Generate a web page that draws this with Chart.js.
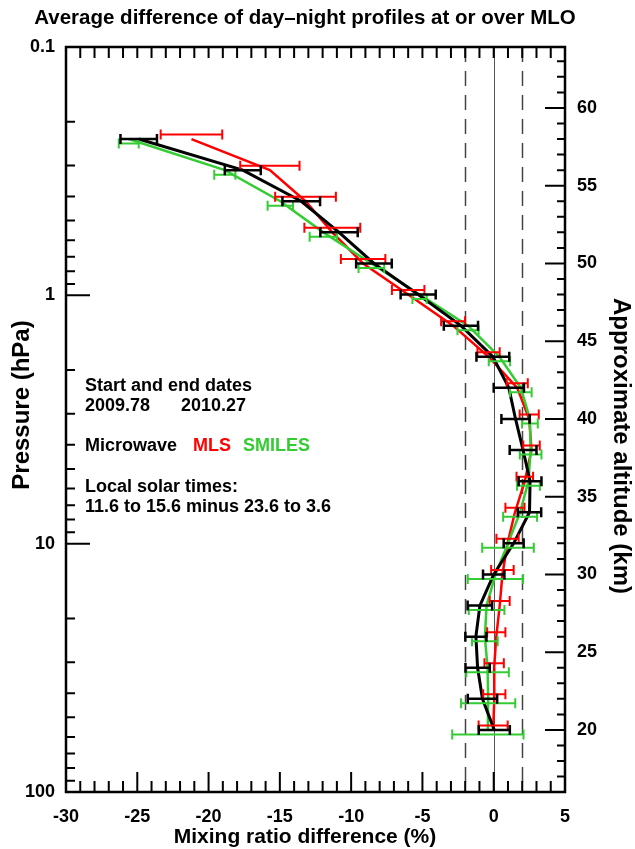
<!DOCTYPE html>
<html><head><meta charset="utf-8">
<script src="https://cdn.jsdelivr.net/npm/chart.js@4.4.0/dist/chart.umd.min.js"></script>
<style>html,body{margin:0;padding:0;background:#fff;}#wrap{width:635px;height:849px;}</style>
</head><body><div id="wrap"><canvas id="c" width="635" height="849"></canvas></div>
<script>
// ---- data (altitude in km, values in %) ----
const altitudes = [58,56,54,52,50,48,46,44,42,40,38,36,34,32,30,28,26,24,22,20];
const microwaveDiff = [-24.9,-17.6,-13.5,-10.85,-8.4,-5.3,-2.3,-0.06,1.06,1.53,2.06,2.55,2.51,1.4,0.0,-0.97,-1.25,-1.13,-0.79,0.04];
const microwaveErr  = [1.28,1.26,1.32,1.31,1.25,1.23,1.2,1.15,1.06,0.99,0.94,0.8,0.82,0.7,0.75,0.86,0.74,0.85,1.03,1.09];
const mlsDiff = [-21.2,-15.7,-13.2,-11.32,-9.16,-6.0,-2.85,-0.36,1.65,2.49,2.65,2.18,1.49,0.97,0.61,0.42,0.18,0.03,0.04,-0.04];
const mlsErr  = [2.16,2.08,2.13,1.96,1.56,1.14,0.84,0.78,0.74,0.67,0.58,0.58,0.67,0.78,0.79,0.7,0.64,0.68,0.78,1.02];
const smilesDiff = [-25.6,-18.86,-14.97,-11.95,-8.58,-5.2,-1.8,0.4,1.9,2.54,2.59,2.44,1.85,1.0,0.12,-0.5,-0.62,-0.43,-0.39,-0.41];
const smilesErr  = [0.7,0.74,0.89,0.96,0.9,0.5,0.74,0.75,0.76,0.55,0.76,0.8,1.19,1.81,1.94,1.25,0.9,1.49,1.9,2.5];

const xTicks = [-30,-25,-20,-15,-10,-5,0,5];
const xTickLabels = ['-30','-25','-20','-15','-10','-5','0','5'];
const pressureTicks = [0.1,1,10,100];
const pressureLabels = ['0.1','1','10','100'];
const altTicks = [20,25,30,35,40,45,50,55,60];
const altTickLabels = ['20','25','30','35','40','45','50','55','60'];
const refLines = [-2,0,2];

const FONT = '"Liberation Sans", Arial, Helvetica, sans-serif';
const RED = '#ff0000', GREEN = '#33cc33', BLACK = '#000000';

function pts(vals){ return altitudes.map((a,i)=>({x:vals[i], y:a})); }

const series = [
  {label:'MLS', vals:mlsDiff, errs:mlsErr, color:RED, off:-4.5, lw:2},
  {label:'SMILES', vals:smilesDiff, errs:smilesErr, color:GREEN, off:4.5, lw:2},
  {label:'Microwave', vals:microwaveDiff, errs:microwaveErr, color:BLACK, off:0, lw:2.5}
];

const decor = {
  id:'decor',
  beforeDatasetsDraw(chart){
    const {ctx, chartArea:ca, scales} = chart;
    const xs = scales.x;
    ctx.save();
    refLines.forEach(v=>{
      const x = Math.round(xs.getPixelForValue(v))+0.5;
      ctx.beginPath();
      if (v===0){ ctx.setLineDash([]); ctx.lineWidth=1; ctx.strokeStyle='#555'; }
      else { ctx.setLineDash([15,9]); ctx.lineWidth=1.5; ctx.strokeStyle='#444'; }
      ctx.moveTo(x, ca.top); ctx.lineTo(x, ca.bottom); ctx.stroke();
    });
    ctx.restore();
  },
  afterDatasetsDraw(chart){
    const {ctx, scales} = chart;
    const xs = scales.x, as = scales.alt;
    ctx.save();
    series.forEach(s=>{
      ctx.strokeStyle = s.color; ctx.lineWidth = s.lw;
      altitudes.forEach((a,i)=>{
        const y = as.getPixelForValue(a) + s.off;
        const x1 = xs.getPixelForValue(s.vals[i]-s.errs[i]);
        const x2 = xs.getPixelForValue(s.vals[i]+s.errs[i]);
        ctx.beginPath();
        ctx.moveTo(x1,y); ctx.lineTo(x2,y);
        ctx.moveTo(x1,y-5); ctx.lineTo(x1,y+5);
        ctx.moveTo(x2,y-5); ctx.lineTo(x2,y+5);
        ctx.stroke();
      });
    });
    ctx.restore();
  },
  afterDraw(chart){
    const {ctx, chartArea:ca, scales} = chart;
    const xs = scales.x, ps = scales.p, as = scales.alt;
    ctx.save();
    ctx.strokeStyle='#000'; ctx.lineWidth=2;
    ctx.beginPath();
    for (let v=-30; v<=5; v++){
      const x = xs.getPixelForValue(v);
      const len = (v%5===0) ? 20 : 11;
      ctx.moveTo(x, ca.bottom); ctx.lineTo(x, ca.bottom-len);
      ctx.moveTo(x, ca.top); ctx.lineTo(x, ca.top+11);
    }
    [0.1,1,10].forEach(d=>{
      for (let m=1; m<=9; m++){
        const v = d*m; const y = ps.getPixelForValue(v);
        const len = m===1 ? 24 : 9;
        ctx.moveTo(ca.left, y); ctx.lineTo(ca.left+len, y);
      }
    });
    for (let a=17; a<=63; a++){
      const y = as.getPixelForValue(a);
      const len = (a%5===0) ? 20 : 8;
      ctx.moveTo(ca.right, y); ctx.lineTo(ca.right-len, y);
    }
    ctx.stroke();
    ctx.lineWidth=2.5;
    ctx.strokeRect(ca.left, ca.top, ca.right-ca.left, ca.bottom-ca.top);

    ctx.fillStyle='#000';
    ctx.textBaseline='middle';
    ctx.textAlign='center';
    ctx.font = 'bold 20.5px '+FONT;
    ctx.fillText('Average difference of day\u2013night profiles at or over MLO', 305, 18);
    ctx.font = 'bold 21px '+FONT;
    ctx.fillText('Mixing ratio difference (%)', 305, 837);
    ctx.font = 'bold 24px '+FONT;
    ctx.save(); ctx.translate(22, 405); ctx.rotate(-Math.PI/2);
    ctx.fillText('Pressure (hPa)', 0, 0); ctx.restore();
    ctx.save(); ctx.translate(621, 446); ctx.rotate(Math.PI/2);
    ctx.fillText('Approximate altitude (km)', 0, 0); ctx.restore();

    ctx.textAlign='left';
    ctx.font = 'bold 18px '+FONT;
    ctx.fillText('Start and end dates', 85, 386);
    ctx.fillText('2009.78', 85, 406);
    ctx.fillText('2010.27', 181, 406);
    ctx.fillText('Microwave', 85, 446);
    ctx.fillStyle=RED; ctx.fillText('MLS', 193, 446);
    ctx.fillStyle=GREEN; ctx.fillText('SMILES', 243, 446);
    ctx.fillStyle='#000';
    ctx.fillText('Local solar times:', 85, 487);
    ctx.fillText('11.6 to 15.6 minus 23.6 to 3.6', 85, 507);
    ctx.restore();
  }
};

const tickFont = {family:FONT, weight:'bold', size:18};

new Chart(document.getElementById('c'), {
  type:'scatter',
  data:{ datasets: series.map((s,i)=>({
    label:s.label, data:pts(s.vals), yAxisID:'alt', xAxisID:'x',
    showLine:true, borderColor:s.color, borderWidth:s.lw+0.5, pointRadius:0,
    fill:false, tension:0, order: s.label==='Microwave'?0:(s.label==='SMILES'?1:2)
  }))},
  options:{
    responsive:false, animation:false, devicePixelRatio:1,
    layout:{padding:{top:47,left:0,right:0,bottom:0}},
    plugins:{legend:{display:false}, tooltip:{enabled:false}, title:{display:false}},
    scales:{
      x:{type:'linear', position:'bottom', min:-30, max:5,
        afterBuildTicks:s=>{ s.ticks = xTicks.map(v=>({value:v})); },
        ticks:{font:tickFont, color:'#000', padding:14, maxRotation:0, autoSkip:false,
          callback:(v)=>{ const i = xTicks.indexOf(v); return i>=0 ? xTickLabels[i] : ''; }},
        grid:{display:false, drawTicks:false}, border:{display:false},
        afterFit:s=>{ s.height = 57; }},
      p:{type:'logarithmic', position:'left', reverse:true, min:0.1, max:100,
        afterBuildTicks:s=>{ s.ticks = pressureTicks.map(v=>({value:v})); },
        ticks:{font:tickFont, color:'#000', padding:11, autoSkip:false,
          callback:(v)=>{ const i = pressureTicks.indexOf(v); return i>=0 ? pressureLabels[i] : ''; }},
        grid:{display:false, drawTicks:false}, border:{display:false},
        afterFit:s=>{ s.width = 66; }},
      alt:{type:'linear', position:'right', min:16.01, max:63.92,
        afterBuildTicks:s=>{ s.ticks = altTicks.map(v=>({value:v})); },
        ticks:{font:tickFont, color:'#000', padding:12, autoSkip:false,
          callback:(v)=>{ const i = altTicks.indexOf(v); return i>=0 ? altTickLabels[i] : ''; }},
        grid:{display:false, drawTicks:false}, border:{display:false},
        afterFit:s=>{ s.width = 70; }}
    }
  },
  plugins:[decor]
});
</script>
</body></html>
